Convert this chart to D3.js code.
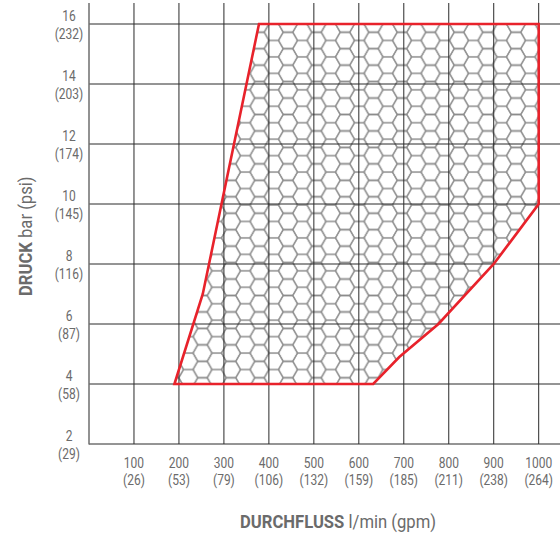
<!DOCTYPE html>
<html>
<head>
<meta charset="utf-8">
<script src="https://cdn.jsdelivr.net/npm/d3@7"></script>
<style>
  html, body { margin: 0; padding: 0; background: #fff; }
  svg { display: block; }
  text { font-family: Roboto, "Liberation Sans", sans-serif; fill: #6b6b6b; }
</style>
</head>
<body>
<svg id="chart" width="560" height="540"></svg>
<script>
// ---- data ----
const flowTicks = [100, 200, 300, 400, 500, 600, 700, 800, 900, 1000];
const flowGpm = ["26", "53", "79", "106", "132", "159", "185", "211", "238", "264"];
const pressTicks = [2, 4, 6, 8, 10, 12, 14, 16];
const pressPsi = ["29", "58", "87", "116", "145", "174", "203", "232"];
// operating envelope (l/min, bar)
const envelopeFlow = [190, 253, 378, 1000, 1000, 900, 777, 690, 632];
const envelopePressure = [4, 7, 16, 16, 10, 8, 6, 4.9, 4];

// ---- layout ----
const svg = d3.select("#chart");
const x = d3.scaleLinear().domain([0, 1000]).range([89, 538.7]);
const y = d3.scaleLinear().domain([2, 16]).range([444, 24]);
const xMax = 1050, yMax = 16.7;
const SX = 0.8;    // horizontal condensing of tick labels
const TSX = 0.9;   // horizontal condensing of axis titles
const FS = 15;

const defs = svg.append("defs");
// hexagon pattern (flat-top)
const s = 9.5, hh = Math.sqrt(3) * s;
const pat = defs.append("pattern")
  .attr("id", "hex")
  .attr("patternUnits", "userSpaceOnUse")
  .attr("width", 3 * s).attr("height", hh)
  .attr("x", 3).attr("y", 24);
function hexPath(cx, cy) {
  const pts = d3.range(6).map(i => {
    const a = Math.PI / 3 * i;
    return [cx + s * Math.cos(a), cy + s * Math.sin(a)];
  });
  return "M" + pts.map(p => p.join(",")).join("L") + "Z";
}
[[0, 0], [3 * s, 0], [0, hh], [3 * s, hh], [1.5 * s, hh / 2]].forEach(([cx, cy]) => {
  pat.append("path").attr("d", hexPath(cx, cy))
    .attr("fill", "none").attr("stroke", "#8c8c8c").attr("stroke-width", 1.3);
});

const env = envelopeFlow.map((f, i) => [f, envelopePressure[i]]);
const line = d3.line().x(d => x(d[0])).y(d => y(d[1])).curve(d3.curveLinearClosed);

// hex fill
svg.append("path").attr("d", line(env)).attr("fill", "url(#hex)").attr("stroke", "none");

// grid
const grid = svg.append("g");
grid.selectAll(".vg").data(flowTicks).join("line")
  .attr("x1", d => x(d)).attr("x2", d => x(d))
  .attr("y1", y(yMax)).attr("y2", y(2))
  .attr("stroke", "#2a2a2a").attr("stroke-width", 1);
grid.selectAll(".hg").data(pressTicks).join("line")
  .attr("x1", x(0)).attr("x2", x(xMax))
  .attr("y1", d => y(d)).attr("y2", d => y(d))
  .attr("stroke", "#2a2a2a").attr("stroke-width", 1);
// left axis
grid.append("line")
  .attr("x1", x(0)).attr("x2", x(0))
  .attr("y1", y(yMax)).attr("y2", y(2) + 0.5)
  .attr("stroke", "#6e6e6e").attr("stroke-width", 1.5);

// envelope outline
svg.append("path").attr("d", line(env))
  .attr("fill", "none").attr("stroke", "#e8222b").attr("stroke-width", 2.6)
  .attr("stroke-linejoin", "miter");

function label(g, px, py, str) {
  g.append("text")
    .attr("transform", `translate(${px},${py}) scale(${SX},1)`)
    .attr("text-anchor", "middle")
    .attr("font-size", FS)
    .text(str);
}

// y labels
const yl = svg.append("g");
pressTicks.forEach((v, i) => {
  label(yl, 69, y(v) - 3, String(v));
  label(yl, 69, y(v) + 14.5, "(" + pressPsi[i] + ")");
});
// x labels
const xl = svg.append("g");
flowTicks.forEach((v, i) => {
  label(xl, x(v), 467.5, String(v));
  label(xl, x(v), 485, "(" + flowGpm[i] + ")");
});

// axis titles
const xt = svg.append("text").attr("font-size", 18.5)
  .attr("transform", `translate(240,528) scale(${TSX},1)`);
xt.append("tspan").attr("font-weight", "bold").text("DURCHFLUSS");
xt.append("tspan").text(" l/min (gpm)");

const yt = svg.append("text").attr("font-size", 18.5)
  .attr("transform", `translate(32,296) rotate(-90) scale(${TSX},1)`);
yt.append("tspan").attr("font-weight", "bold").text("DRUCK");
yt.append("tspan").text(" bar (psi)");
</script>
</body>
</html>
